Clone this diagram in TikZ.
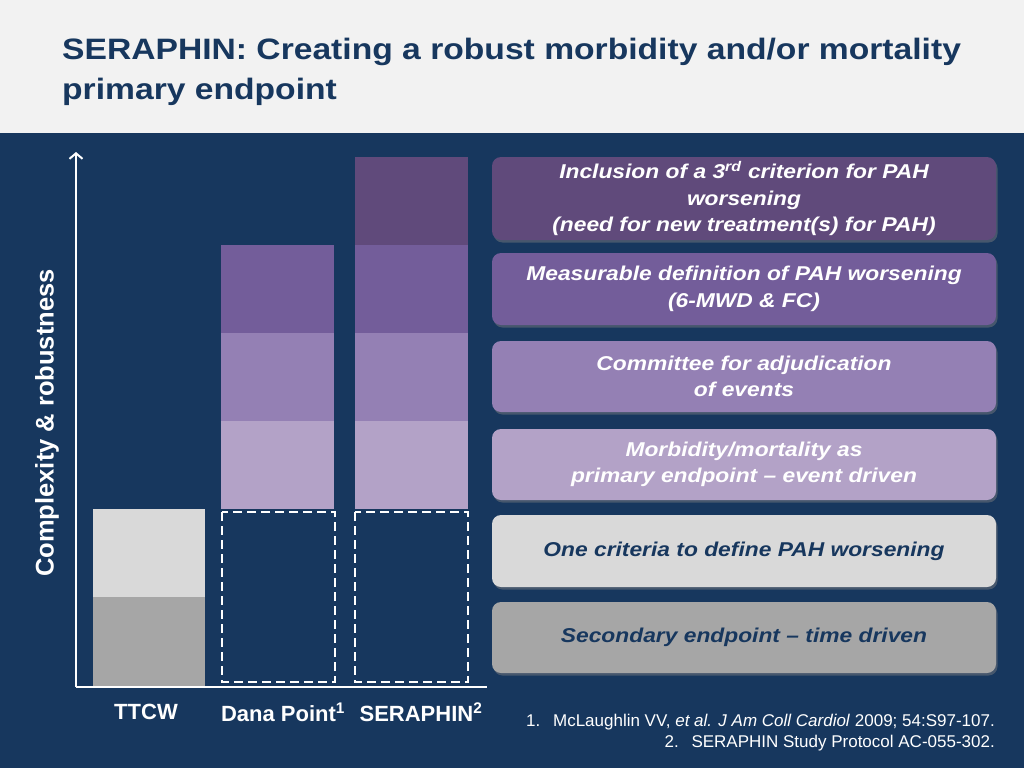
\documentclass[tikz,border=0pt]{standalone}
\usepackage{fontspec}
\setmainfont{Liberation Sans}
\newfontfamily\widefont[FakeStretch=1.14,Ligatures=TeX]{Liberation Sans}
\usetikzlibrary{arrows.meta,shadows}
\definecolor{navy}{HTML}{17375E}
\definecolor{hdr}{HTML}{F2F2F2}
\definecolor{pA}{HTML}{604A7B}
\definecolor{pB}{HTML}{735D9A}
\definecolor{pC}{HTML}{9480B4}
\definecolor{pD}{HTML}{B3A2C7}
\definecolor{gL}{HTML}{D9D9D9}
\definecolor{gD}{HTML}{A6A6A6}
\tikzset{
  box/.style={rounded corners=9pt, minimum width=504pt, align=center, inner sep=0pt,
    font=\widefont\fontsize{20}{26.5}\selectfont\bfseries\itshape,
    drop shadow={shadow xshift=1.5pt, shadow yshift=-2.5pt, opacity=0.45}},
  dbox/.style={box, text=white},
  lbox/.style={box, text=navy},
  barlabel/.style={text=white, inner sep=0pt, font=\fontsize{22}{26}\selectfont\bfseries},
  foot/.style={anchor=base east, text=white, inner sep=0pt, font=\fontsize{17}{20}\selectfont},
  dashbox/.style={draw=white, line width=2.5pt, dash pattern=on 9pt off 5pt},
  axis/.style={draw=white, line width=2pt}
}
\begin{document}
\begin{tikzpicture}[x=1pt,y=-1pt]
\useasboundingbox (0,0) rectangle (1024,768);
\fill[hdr] (0,0) rectangle (1024,133);
\fill[navy] (0,133) rectangle (1024,768);
% title
\node[anchor=base west, text=navy, align=left, inner sep=0pt,
  font=\widefont\fontsize{29.5}{40}\selectfont\bfseries] (title) at (62,99.5)
  {SERAPHIN: Creating a robust morbidity and/or mortality\\primary endpoint};
% bars
\fill[gL] (93,509) rectangle (205,597);
\fill[gD] (93,597) rectangle (205,686);
\fill[pB] (221,245) rectangle (334,333);
\fill[pC] (221,333) rectangle (334,421);
\fill[pD] (221,421) rectangle (334,509);
\fill[pA] (355,157) rectangle (468,245);
\fill[pB] (355,245) rectangle (468,333);
\fill[pC] (355,333) rectangle (468,421);
\fill[pD] (355,421) rectangle (468,509);
\draw[dashbox] (222,512) rectangle (335,682);
\draw[dashbox] (355,512) rectangle (468,682);
% axes
\coordinate (origin) at (76,687);
\coordinate (ytop) at (76,152);
\coordinate (xend) at (487,687);
\draw[axis, -{Straight Barb[length=5.5pt,width=13pt]}] (origin) -- (ytop);
\draw[axis] (origin) -- (xend);
\node[text=white, rotate=90, font=\fontsize{25.5}{30}\selectfont\bfseries] (ylab) at (47,423) {Complexity \& robustness};
% bar labels
\node[barlabel, anchor=base] (l1) at (146,719) {TTCW};
\node[barlabel, anchor=base] (l2) at (283,721.5) {Dana Point\textsuperscript{1}};
\node[barlabel, anchor=base] (l3) at (421,721.5) {SERAPHIN\textsuperscript{2}};
% right boxes
\node[dbox, fill=pA, minimum height=83pt] (b1) at (744,198.5) {Inclusion of a 3\textsuperscript{rd} criterion for PAH\\worsening\\(need for new treatment(s) for PAH)};
\node[dbox, fill=pB, minimum height=72pt] (b2) at (744,289) {Measurable definition of PAH worsening\\(6-MWD \& FC)};
\node[dbox, fill=pC, minimum height=71pt] (b3) at (744,376.5) {Committee for adjudication\\of events};
\node[dbox, fill=pD, minimum height=71pt] (b4) at (744,464.5) {Morbidity/mortality as\\primary endpoint \textendash{} event driven};
\node[lbox, fill=gL, minimum height=72pt] (b5) at (744,551) {One criteria to define PAH worsening};
\node[lbox, fill=gD, minimum height=71pt] (b6) at (744,637.5) {Secondary endpoint \textendash{} time driven};
% footnotes
\node[foot] (f1) at (995,726)
  {1.\hspace{0.75em}McLaughlin VV, \textit{et al. J Am Coll Cardiol} 2009; 54:S97-107.};
\node[foot] (f2) at (995,747)
  {2.\hspace{0.75em}SERAPHIN Study Protocol AC-055-302.};
\end{tikzpicture}
\end{document}
